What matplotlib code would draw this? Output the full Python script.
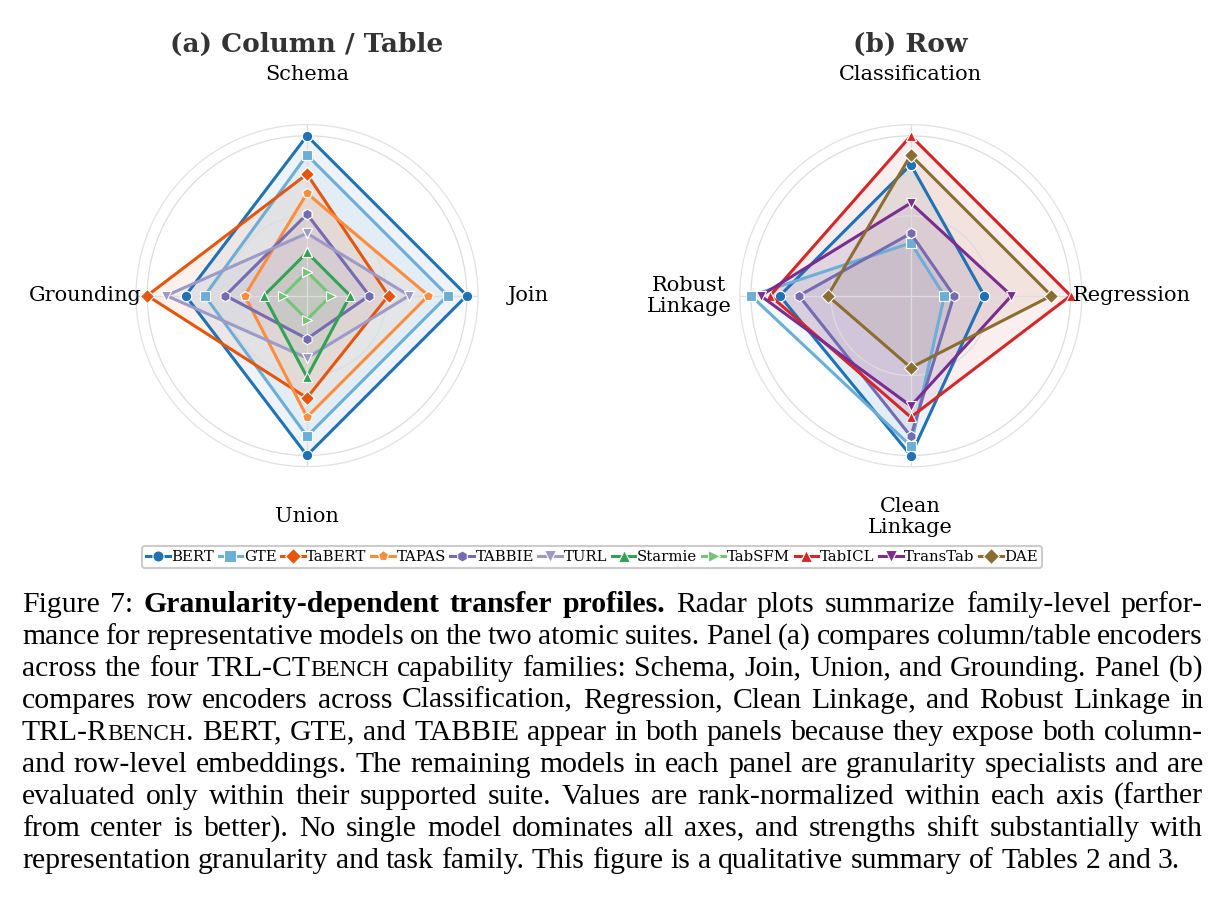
import re
import numpy as np
import matplotlib
matplotlib.use("Agg")
import matplotlib.pyplot as plt
from matplotlib.lines import Line2D

W, H = 1224, 901

# panel (a): column / table encoders
col_axes = ["Schema", "Join", "Union", "Grounding"]
col_models = ["BERT", "GTE", "TaBERT", "TAPAS", "TABBIE", "TURL", "Starmie", "TabSFM"]
col_scores = [
    [1.00, 1.00, 1.00, 0.76],
    [0.88, 0.88, 0.88, 0.64],
    [0.76, 0.51, 0.64, 1.00],
    [0.64, 0.76, 0.76, 0.39],
    [0.51, 0.39, 0.27, 0.51],
    [0.39, 0.64, 0.39, 0.88],
    [0.27, 0.27, 0.51, 0.27],
    [0.15, 0.15, 0.15, 0.15],
]

# panel (b): row encoders
row_axes = ["Classification", "Regression", "Clean\nLinkage", "Robust\nLinkage"]
row_models = ["BERT", "GTE", "TABBIE", "TabICL", "TransTab", "DAE"]
row_scores = [
    [0.82, 0.46, 1.00, 0.82],
    [0.33, 0.21, 0.94, 1.00],
    [0.39, 0.27, 0.88, 0.70],
    [1.00, 1.00, 0.76, 0.88],
    [0.58, 0.63, 0.69, 0.94],
    [0.88, 0.88, 0.45, 0.52],
]

legend_order = ["BERT", "GTE", "TaBERT", "TAPAS", "TABBIE", "TURL", "Starmie",
                "TabSFM", "TabICL", "TransTab", "DAE"]

style = {
    "BERT": ("#1f72b4", "o"),
    "GTE": ("#6baed6", "s"),
    "TaBERT": ("#e6550d", "D"),
    "TAPAS": ("#fd8d3c", "p"),
    "TABBIE": ("#756bb1", "h"),
    "TURL": ("#9e9ac8", "v"),
    "Starmie": ("#31a354", "^"),
    "TabSFM": ("#74c476", ">"),
    "TabICL": ("#d62728", "^"),
    "TransTab": ("#7b2d8f", "v"),
    "DAE": ("#8c6d31", "D"),
}

caption = [
    "Figure 7: **Granularity-dependent** **transfer** **profiles.** Radar plots summarize family-level perfor-",
    "mance for representative models on the two atomic suites. Panel (a) compares column/table encoders",
    "across the four TRL-CT{BENCH} capability families: Schema, Join, Union, and Grounding. Panel (b)",
    "compares row encoders across Classification, Regression, Clean Linkage, and Robust Linkage in",
    "TRL-R{BENCH}. BERT, GTE, and TABBIE appear in both panels because they expose both column-",
    "and row-level embeddings. The remaining models in each panel are granularity specialists and are",
    "evaluated only within their supported suite. Values are rank-normalized within each axis (farther",
    "from center is better). No single model dominates all axes, and strengths shift substantially with",
    "representation granularity and task family. This figure is a qualitative summary of Tables 2 and 3.",
]

SERIF = "DejaVu Serif"
fig = plt.figure(figsize=(W / 100, H / 100), dpi=100)


def radar(cx, cy, names, models, scores, title):
    rad = 171
    ax = fig.add_axes([(cx - rad) / W, 1 - (cy + rad) / H, 2 * rad / W, 2 * rad / H],
                      projection="polar")
    ang = np.deg2rad([0, 90, 180, 270])
    ax.set_theta_offset(np.pi / 2)
    ax.set_theta_direction(-1)
    ax.set_ylim(0, 1.07)
    ax.set_yticks([0.5, 1.0])
    ax.set_yticklabels([])
    ax.set_xticks(ang)
    ax.set_xticklabels([])
    ax.grid(color="#dddddd", lw=0.9)
    ax.spines["polar"].set_color("#e2e2e2")
    ax.spines["polar"].set_linewidth(0.9)
    th = np.r_[ang, ang[:1]]
    for m, s in zip(models, scores):
        c, mk = style[m]
        r = np.r_[s, s[:1]]
        ax.fill(th, r, color=c, alpha=0.08, lw=0)
        ax.plot(th, r, color=c, lw=2.2, marker=mk, ms=7.5, mec="white", mew=0.8,
                clip_on=False)
    for a, name in zip(ang, names):
        ax.text(a, 1.385, name, ha="center", va="center", fontsize=15, family=SERIF,
                linespacing=1.15)
    fig.text(cx / W, 1 - 51.7 / H, title, ha="center", va="baseline", fontsize=19,
             fontweight="bold", color="#333333", family=SERIF)


radar(307, 295.6, col_axes, col_models, col_scores, "(a) Column / Table")
radar(910.8, 295.7, row_axes, row_models, row_scores, "(b) Row")

handles = [Line2D([], [], color=style[m][0], marker=style[m][1], lw=2.2, ms=8,
                  mec="white", mew=0.8) for m in legend_order]
leg = fig.legend(handles, legend_order, loc="center", bbox_to_anchor=(592 / W, 1 - 557 / H),
                 ncol=11, prop={"family": SERIF, "size": 10.7}, handlelength=1.6,
                 handletextpad=0.1, columnspacing=0.3, borderpad=0.3, fancybox=True,
                 framealpha=1)
leg.get_frame().set_edgecolor("#cccccc")
leg.get_frame().set_linewidth(1.5)

# caption, justified word by word
CAP = "Liberation Serif"
CAP_SIZE = 21.4
x0, x1 = 22, 1203
base0, lead = 611.5, 32
renderer = fig.canvas.get_renderer()
tok = re.compile(r"\*\*(.+?)\*\*|\{(.+?)\}|([^*{}]+)")


def runs_of(word):
    out = []
    for b, sc, n in tok.findall(word):
        if b:
            out.append((b, "bold", CAP_SIZE))
        elif sc:
            out.append((sc, "normal", CAP_SIZE * 0.78))
        else:
            out.append((n, "normal", CAP_SIZE))
    return out


def place(words, y, justify):
    items = []
    for w in words:
        parts = []
        width = 0
        for txt, wt, sz in runs_of(w):
            t = fig.text(0, 1 - y / H, txt, fontsize=sz, fontweight=wt, family=CAP,
                         va="baseline", ha="left")
            ext = t.get_window_extent(renderer)
            parts.append((t, width))
            width += ext.width
        items.append((parts, width))
    total = sum(wd for _, wd in items)
    gap = (x1 - x0 - total) / (len(items) - 1) if justify else CAP_SIZE * 100 / 72 * 0.25
    x = x0
    for parts, wd in items:
        for t, off in parts:
            t.set_x((x + off) / W)
        x += wd + gap


for i, line in enumerate(caption):
    place(line.split(" "), base0 + lead * i, i < len(caption) - 1)

fig.savefig("out.png", dpi=100)
